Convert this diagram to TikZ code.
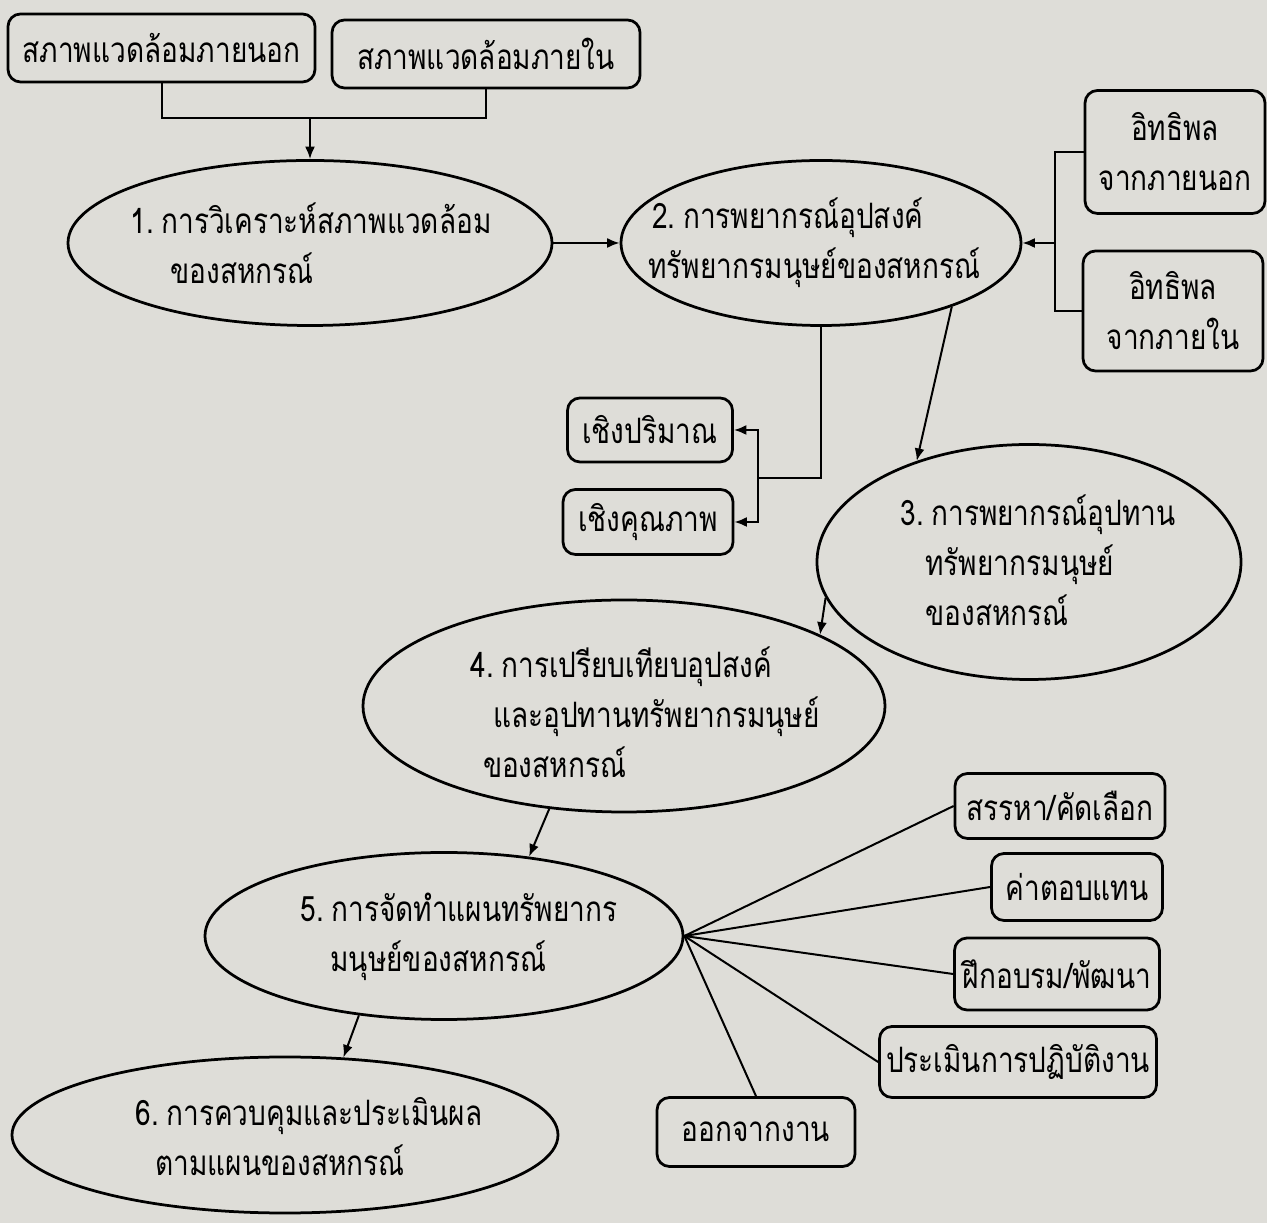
\documentclass[tikz,border=0pt]{standalone}
\usepackage{fontspec}
\newfontfamily\thaifont[Script=Thai,FakeStretch=0.8]{Loma}
\usetikzlibrary{arrows.meta,shapes.geometric}
\definecolor{paper}{RGB}{222,221,216}

\begin{document}
\begin{tikzpicture}[x=0.4pt,y=-0.4pt,
  box/.style={draw,rounded corners=5pt,line width=1.1pt,inner sep=0pt,
    align=center,font=\thaifont\fontsize{14}{20}\selectfont},
  stage/.style={draw,ellipse,line width=1.1pt,inner sep=0pt},
  stagetext/.style={anchor=west,align=left,inner sep=0pt,
    font=\thaifont\fontsize{14}{20}\selectfont},
  link/.style={line width=0.8pt},
  >={Latex[length=5pt,width=4pt]}]
\useasboundingbox (0,0) rectangle (1267,1223);
\fill[paper] (0,0) rectangle (1267,1223);

% top boxes
\node[box,minimum width=122.8pt,minimum height=27.2pt] (envout) at (161.5,48) {สภาพแวดล้อมภายนอก};
\node[box,minimum width=123.2pt,minimum height=27.2pt] (envin) at (486,54) {สภาพแวดล้อมภายใน};

% stages
\node[stage,minimum width=193.6pt,minimum height=66pt] (s1) at (310,243) {};
\node[stagetext] at (130,243) {1.\hspace{3pt}การวิเคราะห์สภาพแวดล้อม\\\hspace*{16pt}ของสหกรณ์};
\node[stage,minimum width=160pt,minimum height=66pt] (s2) at (821,243) {};
\node[stagetext] at (648,243) {\hspace*{1.5pt}2.\hspace{3pt}การพยากรณ์อุปสงค์\\ทรัพยากรมนุษย์ของสหกรณ์};
\node[stage,minimum width=169.6pt,minimum height=94pt] (s3) at (1029,562) {};
\node[stagetext] at (900,560) {3.\hspace{3pt}การพยากรณ์อุปทาน\\\hspace*{10pt}ทรัพยากรมนุษย์\\\hspace*{10pt}ของสหกรณ์};
\node[stage,minimum width=208.8pt,minimum height=84.8pt] (s4) at (624,706) {};
\node[stagetext] at (470,712) {4.\hspace{3pt}การเปรียบเทียบอุปสงค์\\\hspace*{9pt}และอุปทานทรัพยากรมนุษย์\\\hspace*{5pt}ของสหกรณ์};
\node[stage,minimum width=191.2pt,minimum height=66.8pt] (s5) at (444,936) {};
\node[stagetext] at (300,937) {5.\hspace{3pt}การจัดทำแผนทรัพยากร\\\hspace*{12pt}มนุษย์ของสหกรณ์};
\node[stage,minimum width=218.4pt,minimum height=62.4pt] (s6) at (285,1135) {};
\node[stagetext] at (135,1137) {6.\hspace{3pt}การควบคุมและประเมินผล\\\hspace*{8pt}ตามแผนของสหกรณ์};

% side boxes
\node[box,minimum width=72pt,minimum height=49.2pt] (inflout) at (1175,152) {อิทธิพล\\จากภายนอก};
\node[box,minimum width=72pt,minimum height=48pt] (inflin) at (1173,311) {อิทธิพล\\จากภายใน};
\node[box,minimum width=66pt,minimum height=25.6pt] (quant) at (650,430) {เชิงปริมาณ};
\node[box,minimum width=68pt,minimum height=26pt] (qual) at (648,522) {เชิงคุณภาพ};
\node[box,minimum width=84pt,minimum height=26pt] (recruit) at (1060,806) {สรรหา/คัดเลือก};
\node[box,minimum width=68.4pt,minimum height=26.8pt] (pay) at (1077,887) {ค่าตอบแทน};
\node[box,minimum width=82pt,minimum height=28.8pt] (train) at (1057,974) {ฝึกอบรม/พัฒนา};
\node[box,minimum width=110.8pt,minimum height=28.4pt] (appraise) at (1018,1062) {ประเมินการปฏิบัติงาน};
\node[box,minimum width=79.2pt,minimum height=27.6pt] (leave) at (756,1132) {ออกจากงาน};

% connectors
\coordinate (j1) at (310,118);
\draw[link] (envout.south) |- (j1) -| (envin.south);
\draw[link,->] (j1) -- (s1.north);
\draw[link,->] (s1.east) -- (s2.west);
\coordinate (b2) at (1055,243);
\draw[link] (inflout.west) -| (b2) |- (inflin.west);
\draw[link,->] (b2) -- (s2.east);
\coordinate (b3) at (758,478);
\draw[link] (s2.south) |- (b3);
\draw[link,->] (b3) |- (quant.east);
\draw[link,->] (b3) |- (qual.east);
\draw[link,->] (s2.-26) -- (s3.138);
\draw[link,->] (s3.190) -- (s4.20);
\draw[link,->] (s4.-126) -- (s5.43);
\draw[link,->] (s5.-137) -- (s6.53);
\foreach \t in {recruit,pay,train,appraise}
  \draw[link] (s5.east) -- (\t.west);
\draw[link] (s5.east) -- (leave.north);
\end{tikzpicture}
\end{document}
